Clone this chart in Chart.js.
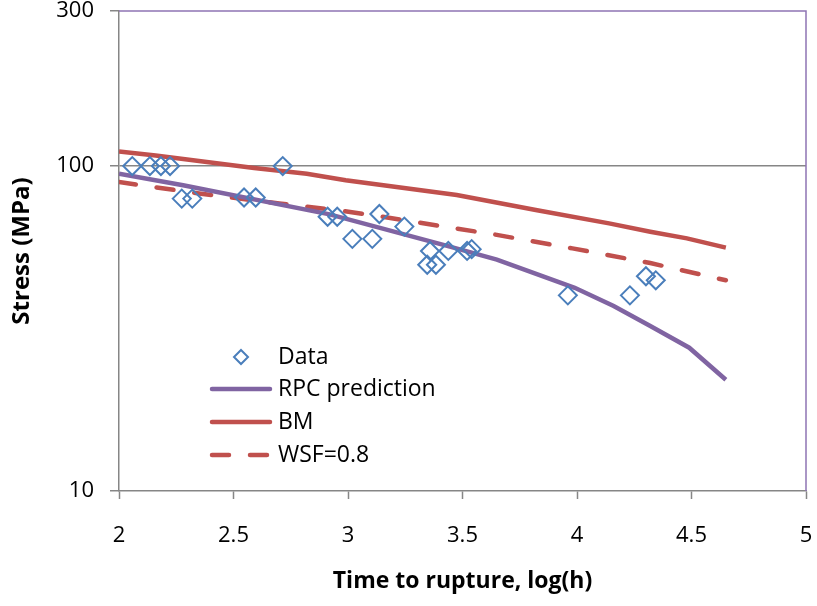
<!DOCTYPE html>
<html>
<head>
<meta charset="utf-8">
<script src="https://cdn.jsdelivr.net/npm/chart.js@4/dist/chart.umd.min.js"></script>
<style>
  body { margin: 0; background: #fff; }
  canvas { display: block; }
</style>
</head>
<body>
<canvas id="rupture" width="817" height="606"></canvas>
<script>
// ===== DATA =====
const dataX = [2.058, 2.135, 2.183, 2.223, 2.274, 2.32, 2.546, 2.597, 2.715, 2.911, 2.953, 3.019, 3.106, 3.137, 3.246, 3.346, 3.358, 3.384, 3.438, 3.52, 3.54, 3.96, 4.231, 4.301, 4.344];
const dataY = [100, 100, 100, 100, 79.4, 79.4, 80, 80, 100, 69.8, 69.8, 59.7, 59.7, 71.2, 65.1, 49.7, 54.8, 49.7, 54.8, 54.8, 55.5, 40, 40, 45.8, 44.5];

const rpcX = [2, 2.28, 2.92, 3.445, 3.65, 3.99, 4.16, 4.32, 4.49, 4.65];
const rpcY = [94.7, 87.3, 71, 56.5, 51.5, 42.2, 37.1, 32.2, 27.6, 22];

const bmX = [2, 2.16, 2.59, 2.82, 2.99, 3.475, 3.82, 4.14, 4.32, 4.48, 4.65];
const bmY = [110.9, 107.8, 98.6, 94.7, 90.4, 81.4, 73.2, 66.6, 62.8, 59.9, 56.1];

const wsfX = [2, 2.35, 2.7, 2.98, 3.15, 3.65, 3.98, 4.32, 4.65];
const wsfY = [89.3, 82.3, 76.7, 72.7, 69.8, 61.4, 55.8, 50.3, 44.5];

const yTicks = [10, 100, 300];

const FONT = "'Open Sans', 'Liberation Sans', sans-serif";
const AXIS_GRAY = '#868686';
const pts = (xs, ys) => xs.map((x, i) => ({ x: x, y: ys[i] }));

// ===== PLUGINS =====
// purple frame on top and right of the plot area
const frame = {
  id: 'frame',
  afterDatasetsDraw(chart) {
    const { ctx, chartArea: a } = chart;
    ctx.save();
    ctx.strokeStyle = '#8e74b4';
    ctx.lineWidth = 1.5;
    ctx.beginPath();
    ctx.moveTo(a.left, a.top);
    ctx.lineTo(a.right, a.top);
    ctx.lineTo(a.right, a.bottom);
    ctx.stroke();
    ctx.restore();
  }
};

// legend inside the plot, Excel style
const innerLegend = {
  id: 'innerLegend',
  afterDraw(chart) {
    const ctx = chart.ctx;
    const x0 = 212, x1 = 270, tx = 278;
    const rows = [357, 389, 422, 455];
    ctx.save();
    ctx.font = '23px ' + FONT;
    ctx.textBaseline = 'middle';
    ctx.fillStyle = '#000';
    chart.data.datasets.forEach((ds, i) => {
      const y = rows[i];
      if (ds.showLine) {
        ctx.strokeStyle = ds.borderColor;
        ctx.lineWidth = ds.borderWidth;
        ctx.lineCap = 'round';
        ctx.setLineDash(ds.borderDash || []);
        ctx.beginPath();
        ctx.moveTo(x0, y);
        ctx.lineTo(x1, y);
        ctx.stroke();
        ctx.setLineDash([]);
      } else {
        const r = 7, cx = 241;
        ctx.strokeStyle = ds.borderColor;
        ctx.lineWidth = 2;
        ctx.beginPath();
        ctx.moveTo(cx, y - r);
        ctx.lineTo(cx + r, y);
        ctx.lineTo(cx, y + r);
        ctx.lineTo(cx - r, y);
        ctx.closePath();
        ctx.stroke();
      }
      ctx.fillText(ds.label, tx, y);
    });
    ctx.restore();
  }
};

// ===== CHART =====
new Chart(document.getElementById('rupture'), {
  type: 'scatter',
  data: {
    datasets: [
      {
        label: 'Data',
        data: pts(dataX, dataY),
        pointStyle: 'rectRot',
        pointRadius: 9,
        pointBorderWidth: 2,
        borderColor: '#4a7ebb',
        backgroundColor: 'rgba(0,0,0,0)',
        showLine: false,
        order: 0
      },
      {
        label: 'RPC prediction',
        data: pts(rpcX, rpcY),
        showLine: true,
        borderColor: '#8064a2',
        borderWidth: 4.5,
        pointRadius: 0,
        order: 1
      },
      {
        label: 'BM',
        data: pts(bmX, bmY),
        showLine: true,
        borderColor: '#c0504d',
        borderWidth: 4.5,
        pointRadius: 0,
        order: 2
      },
      {
        label: 'WSF=0.8',
        data: pts(wsfX, wsfY),
        showLine: true,
        borderColor: '#c0504d',
        borderWidth: 4.5,
        borderDash: [17, 21],
        borderCapStyle: 'round',
        pointRadius: 0,
        order: 3
      }
    ]
  },
  options: {
    responsive: false,
    animation: false,
    layout: { padding: { top: 8, right: 11, left: 0, bottom: 0 } },
    plugins: {
      legend: { display: false },
      tooltip: { enabled: false }
    },
    scales: {
      x: {
        type: 'linear',
        min: 2, max: 5,
        afterFit: s => { s.height = 115; s.paddingLeft = 0; s.paddingRight = 0; },
        ticks: {
          stepSize: 0.5, color: '#000', padding: 24,
          font: { family: FONT, size: 22 },
          callback: v => String(v)
        },
        grid: { drawOnChartArea: false, tickLength: 8, tickColor: AXIS_GRAY, tickWidth: 1.5 },
        border: { color: AXIS_GRAY, width: 1.5 },
        title: {
          display: true,
          text: 'Time to rupture, log(h)',
          color: '#000',
          font: { family: FONT, size: 23, weight: 'bold' },
          padding: { top: 0, bottom: 11 }
        }
      },
      y: {
        type: 'logarithmic',
        min: 10, max: 300,
        afterFit: s => { s.width = 119; s.paddingTop = 0; s.paddingBottom = 0; },
        afterBuildTicks: s => { s.ticks = yTicks.map(v => ({ value: v })); },
        ticks: {
          color: '#000',
          padding: 16,
          font: { family: FONT, size: 22 },
          callback: v => String(v)
        },
        grid: {
          color: c => (c.tick && c.tick.value === 100 ? AXIS_GRAY : 'rgba(0,0,0,0)'),
          lineWidth: 1.5,
          tickLength: 9,
          tickColor: AXIS_GRAY,
          tickWidth: 1.5
        },
        border: { color: AXIS_GRAY, width: 1.5 },
        title: {
          display: true,
          text: 'Stress (MPa)',
          color: '#000',
          font: { family: FONT, size: 24, weight: 'bold' },
          padding: { top: 8, bottom: 0 }
        }
      }
    }
  },
  plugins: [frame, innerLegend]
});
</script>
</body>
</html>
